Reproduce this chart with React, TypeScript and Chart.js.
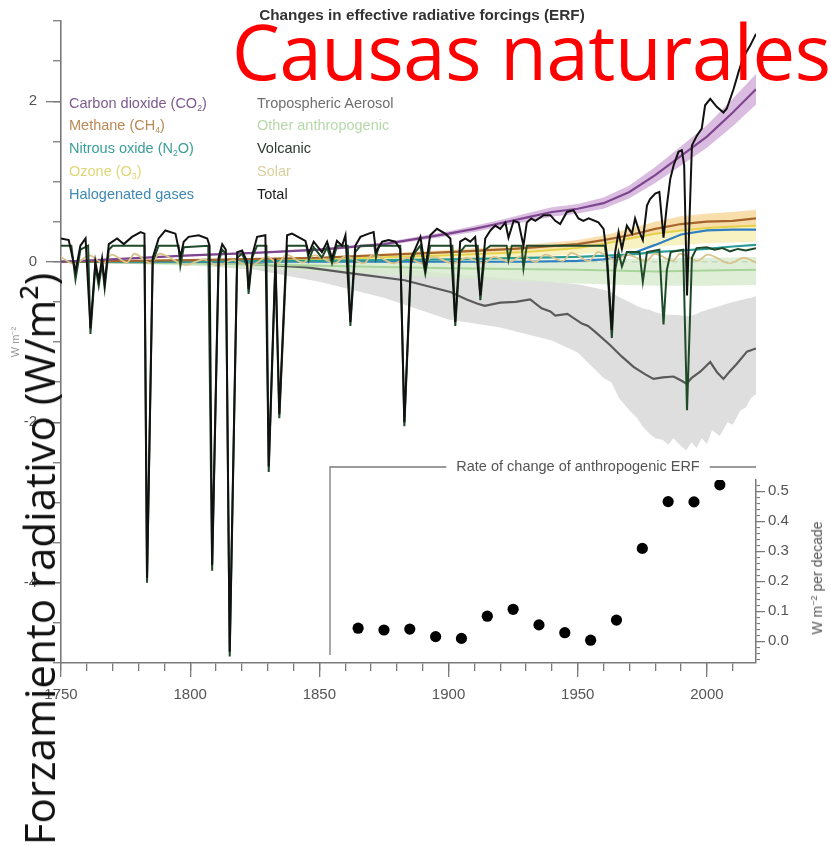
import React, { useEffect, useRef } from 'react';
import { Chart, registerables } from 'chart.js';

Chart.register(...registerables);

const W = 831;
const H = 846;
const FONT = "'Liberation Sans', Arial, Helvetica, sans-serif";
const AXIS = '#7a7a7a';
const TICK_TEXT = '#555555';
Chart.defaults.font.family = FONT;

// ---- axes -------------------------------------------------------------
const YEAR_MIN = 1750;
const YEAR_MAX = 2019;
const ERF_MIN = -5;
const ERF_MAX = 3;
const ERF_LABEL_TICKS = [-4, -2, 0, 2];
const RATE_MIN = -0.073;
const RATE_MAX = 0.537;

// ---- effective radiative forcing series (W m-2) ------------------------
const co2Years = [1750, 1775, 1800, 1825, 1850, 1875, 1900, 1910, 1920, 1930, 1940, 1950, 1960, 1970, 1980, 1990, 2000, 2010, 2019];
const co2Values = [0, 0.04, 0.08, 0.11, 0.15, 0.22, 0.35, 0.41, 0.48, 0.55, 0.62, 0.66, 0.73, 0.87, 1.08, 1.32, 1.56, 1.86, 2.15];
const co2Low = [0, 0.035, 0.07, 0.1, 0.135, 0.2, 0.32, 0.37, 0.44, 0.5, 0.56, 0.6, 0.66, 0.79, 0.98, 1.2, 1.42, 1.69, 1.96];
const co2High = [0, 0.045, 0.09, 0.12, 0.165, 0.24, 0.38, 0.45, 0.52, 0.6, 0.68, 0.72, 0.8, 0.95, 1.18, 1.44, 1.7, 2.03, 2.34];

const ch4Years = [1750, 1800, 1850, 1900, 1925, 1950, 1960, 1970, 1980, 1990, 2000, 2010, 2019];
const ch4Values = [0, 0.02, 0.05, 0.12, 0.16, 0.22, 0.27, 0.33, 0.41, 0.47, 0.5, 0.51, 0.54];
const ch4Low = [0, 0.015, 0.04, 0.1, 0.13, 0.18, 0.22, 0.27, 0.34, 0.39, 0.41, 0.42, 0.45];
const ch4High = [0, 0.025, 0.06, 0.15, 0.2, 0.27, 0.33, 0.4, 0.5, 0.57, 0.6, 0.62, 0.65];

const n2oYears = [1750, 1850, 1900, 1950, 1970, 1980, 1990, 2000, 2010, 2019];
const n2oValues = [0, 0.01, 0.03, 0.06, 0.09, 0.12, 0.14, 0.16, 0.19, 0.21];

const ozoneYears = [1750, 1850, 1900, 1930, 1950, 1960, 1970, 1980, 1990, 2000, 2010, 2019];
const ozoneValues = [0, 0.03, 0.08, 0.12, 0.17, 0.22, 0.29, 0.35, 0.39, 0.42, 0.44, 0.45];
const ozoneLow = [0, 0.01, 0.04, 0.06, 0.09, 0.12, 0.16, 0.19, 0.21, 0.23, 0.24, 0.25];
const ozoneHigh = [0, 0.05, 0.12, 0.18, 0.25, 0.32, 0.42, 0.5, 0.55, 0.59, 0.62, 0.63];

const halogenYears = [1750, 1930, 1950, 1960, 1970, 1980, 1990, 2000, 2010, 2019];
const halogenValues = [0, 0, 0.01, 0.03, 0.09, 0.21, 0.34, 0.39, 0.4, 0.4];

const otherYears = [1750, 1800, 1850, 1900, 1950, 1980, 2000, 2019];
const otherValues = [0, -0.02, -0.05, -0.08, -0.1, -0.12, -0.11, -0.1];
const otherLow = [0, -0.05, -0.12, -0.2, -0.27, -0.3, -0.3, -0.29];
const otherHigh = [0, 0.01, 0.01, 0.02, 0.03, 0.04, 0.05, 0.06];

const aerosolYears = [1750, 1800, 1825, 1845, 1864, 1883, 1901, 1907, 1911, 1914, 1920, 1926, 1931.6, 1936, 1939.4, 1941.3, 1946, 1951.6, 1954, 1957, 1962.6, 1967, 1971.6, 1976, 1979.3, 1983, 1987.1, 1990, 1992.2, 1994, 1997.4, 2001.3, 2004, 2006.4, 2009, 2011.6, 2015.5, 2019];
const aerosolValues = [0, -0.01, -0.03, -0.07, -0.15, -0.23, -0.38, -0.47, -0.52, -0.55, -0.51, -0.5, -0.47, -0.58, -0.62, -0.67, -0.65, -0.77, -0.8, -0.88, -1.04, -1.18, -1.31, -1.4, -1.46, -1.44, -1.43, -1.48, -1.52, -1.45, -1.37, -1.25, -1.38, -1.46, -1.36, -1.27, -1.12, -1.08];
const aerosolBandYears = [1750, 1800, 1825, 1850, 1875, 1900, 1920, 1940, 1950, 1960, 1963, 1966, 1970, 1973, 1975, 1978, 1980, 1983, 1985, 1987, 1990, 1992, 1994, 1996, 1998, 2000, 2002, 2005, 2008, 2010, 2013, 2015, 2017, 2019];
const aerosolHigh = [0, 0, -0.01, -0.03, -0.06, -0.15, -0.2, -0.25, -0.28, -0.35, -0.38, -0.44, -0.5, -0.55, -0.58, -0.6, -0.63, -0.65, -0.66, -0.66, -0.67, -0.68, -0.67, -0.65, -0.62, -0.6, -0.58, -0.55, -0.52, -0.5, -0.48, -0.46, -0.45, -0.43];
const aerosolLow = [0, -0.04, -0.1, -0.25, -0.45, -0.72, -0.82, -0.98, -1.13, -1.45, -1.5, -1.7, -1.85, -1.95, -2.05, -2.15, -2.2, -2.22, -2.28, -2.2, -2.3, -2.35, -2.25, -2.32, -2.2, -2.27, -2.1, -2.17, -2.0, -2.03, -1.85, -1.82, -1.7, -1.65];

const volcanicYears = [1750, 1754, 1755.6, 1757.5, 1760.5, 1761.4, 1763.3, 1764.6, 1765.9, 1766.9, 1768.5, 1770, 1782.3, 1783.3, 1785.5, 1787.8, 1795.5, 1796.2, 1797.5, 1807, 1808.5, 1811, 1812.4, 1813.8, 1815.3, 1818.2, 1820.1, 1822, 1822.6, 1824, 1825.9, 1829.5, 1830.4, 1833, 1834.5, 1837.5, 1845, 1845.9, 1847.8, 1851, 1853, 1854.9, 1856.8, 1861, 1862, 1863.9, 1865.9, 1871.3, 1871.9, 1873, 1881.3, 1882.9, 1885.5, 1887.1, 1889.1, 1891, 1892.9, 1901.5, 1902.6, 1904.5, 1906.5, 1911.3, 1912.3, 1914.2, 1916.2, 1922.5, 1923.2, 1924.5, 1928.3, 1929, 1930.3, 1960.5, 1961.3, 1963.2, 1964.5, 1965.8, 1967.1, 1969, 1973.9, 1975.2, 1976.8, 1981.6, 1983.2, 1984.5, 1986, 1990.8, 1992.3, 1994.2, 1996, 2000, 2003, 2006, 2009, 2012, 2015, 2019];
const volcanicValues = [0.2, 0.2, -0.22, 0.15, 0.2, -0.9, -0.05, -0.3, -0.02, -0.33, 0.15, 0.2, 0.2, -4.0, 0.0, 0.2, 0.2, -0.05, 0.18, 0.2, -3.85, 0.0, 0.15, 0.1, -4.92, 0.05, 0.1, -0.05, -0.4, 0.05, 0.2, 0.2, -2.62, -0.02, -1.95, 0.2, 0.2, 0.02, 0.18, 0.05, 0.18, -0.02, 0.2, 0.2, -0.8, 0.12, 0.2, 0.2, 0.05, 0.2, 0.2, -2.05, -0.02, 0.12, 0.2, -0.15, 0.2, 0.2, -0.8, 0.12, 0.2, 0.2, -0.48, 0.15, 0.2, 0.2, 0.02, 0.2, 0.2, -0.08, 0.2, 0.2, 0.0, -0.95, -0.1, 0.12, -0.06, 0.12, 0.12, -0.25, 0.12, 0.15, -0.78, -0.1, 0.12, 0.15, -1.85, 0.05, 0.17, 0.18, 0.15, 0.17, 0.13, 0.16, 0.14, 0.17];

const solarYears = [1750, 1755.2, 1761, 1766.5, 1769.7, 1775.5, 1778.4, 1784.7, 1788.1, 1798.3, 1805.2, 1810.6, 1816.4, 1823.3, 1829.9, 1833.9, 1837.2, 1843.5, 1848.1, 1856, 1860.1, 1867.2, 1870.6, 1878.9, 1883.9, 1889.6, 1894.1, 1901.7, 1907, 1913.6, 1917.6, 1923.6, 1928.4, 1933.8, 1937.4, 1944.2, 1947.5, 1954.3, 1957.9, 1964.9, 1968.9, 1976.5, 1979.9, 1986.8, 1989.6, 1996.4, 2000.3, 2008.9, 2014.3, 2019];
const solarValues = [0.06, -0.03, 0.08, -0.02, 0.09, -0.01, 0.1, -0.02, 0.1, -0.04, 0.03, -0.05, 0.02, -0.05, 0.06, -0.02, 0.09, -0.01, 0.08, -0.02, 0.07, -0.02, 0.09, -0.02, 0.05, -0.02, 0.06, -0.02, 0.05, -0.02, 0.06, 0.0, 0.07, 0.0, 0.09, 0.01, 0.11, 0.01, 0.12, 0.02, 0.09, 0.01, 0.1, 0.01, 0.1, 0.01, 0.09, -0.02, 0.05, -0.01];

const totalYears = [1750, 1753, 1755.6, 1757.5, 1759.5, 1761.4, 1763.3, 1764.6, 1765.9, 1766.9, 1768.5, 1771.7, 1774.3, 1777.5, 1780.8, 1782.3, 1783.3, 1785.5, 1787.8, 1790.4, 1794.3, 1796.2, 1797.5, 1799.4, 1803.3, 1806.6, 1807.5, 1808.5, 1811, 1812.4, 1813.8, 1815.3, 1818.2, 1820.1, 1822, 1822.6, 1824, 1825.9, 1829.1, 1830.4, 1833, 1834.5, 1837.5, 1839.4, 1844.6, 1845.9, 1847.8, 1851, 1853, 1854.9, 1856.8, 1858.8, 1860.1, 1862, 1863.9, 1865.9, 1869.1, 1871, 1871.9, 1874.3, 1876.8, 1879.4, 1881.3, 1882.9, 1885.5, 1887.1, 1889.1, 1891, 1892.9, 1895.5, 1898.7, 1900.7, 1902.6, 1904.5, 1906.5, 1908.4, 1910.3, 1912.3, 1914.2, 1916.2, 1918.1, 1920, 1922, 1923.2, 1925.2, 1927.1, 1929, 1930.3, 1932, 1933.6, 1936.8, 1939.4, 1941.3, 1943.2, 1945.8, 1948.4, 1950.3, 1952.2, 1954.2, 1958, 1960, 1961.3, 1963.2, 1964.5, 1965.8, 1967.1, 1969, 1971, 1972.2, 1973.9, 1975.2, 1976.8, 1978, 1980, 1981.6, 1983.2, 1984.5, 1985.8, 1987.1, 1989, 1990.3, 1991.2, 1992.3, 1994.2, 1996.1, 1998, 1999.3, 2001.3, 2003.8, 2006.4, 2007.7, 2010.3, 2012.2, 2014.1, 2016.7, 2019];
const totalValues = [0.29, 0.27, -0.12, 0.2, 0.29, -0.83, 0.0, -0.23, 0.04, -0.27, 0.22, 0.29, 0.22, 0.31, 0.37, 0.35, -3.94, 0.05, 0.29, 0.39, 0.35, 0.06, 0.25, 0.31, 0.33, 0.29, 0.2, -3.78, 0.05, 0.22, 0.15, -4.86, 0.12, 0.14, 0.0, -0.34, 0.08, 0.31, 0.33, -2.55, 0.04, -1.9, 0.33, 0.35, 0.26, 0.1, 0.25, 0.12, 0.25, 0.04, 0.26, 0.2, 0.33, -0.75, 0.2, 0.31, 0.35, 0.37, 0.12, 0.25, 0.27, 0.25, 0.16, -2.0, 0.05, 0.16, 0.31, -0.09, 0.33, 0.41, 0.35, 0.29, -0.75, 0.25, 0.29, 0.25, 0.31, -0.42, 0.29, 0.39, 0.45, 0.41, 0.49, 0.3, 0.51, 0.49, 0.2, 0.49, 0.54, 0.51, 0.58, 0.58, 0.51, 0.47, 0.62, 0.64, 0.54, 0.51, 0.54, 0.49, 0.41, 0.08, -0.85, 0.12, 0.37, 0.16, 0.45, 0.35, 0.54, 0.37, 0.27, 0.7, 0.78, 0.85, 0.87, 0.3, 0.7, 1.03, 1.2, 1.37, 1.39, 1.2, -0.42, 1.45, 1.57, 1.66, 1.95, 2.03, 1.93, 1.86, 1.91, 2.15, 2.36, 2.55, 2.69, 2.84];

// ---- rate of change of anthropogenic ERF (W m-2 per decade) ------------
const rateYears = [1865, 1875, 1885, 1895, 1905, 1915, 1925, 1935, 1945, 1955, 1965, 1975, 1985, 1995, 2005];
const rateValues = [0.043, 0.037, 0.04, 0.015, 0.009, 0.083, 0.106, 0.054, 0.028, 0.003, 0.07, 0.309, 0.465, 0.464, 0.521];

const INSET_TITLE = 'Rate of change of anthropogenic ERF';

const pts = (xs: number[], ys: number[]) => xs.map((x, i) => ({ x, y: ys[i] }));

const line = (label: string, xs: number[], ys: number[], color: string, width = 2, extra: any = {}) => ({
  label,
  data: pts(xs, ys),
  borderColor: color,
  backgroundColor: color,
  borderWidth: width,
  pointRadius: 0,
  fill: false,
  tension: 0,
  ...extra,
});

const bandEdge = (label: string, xs: number[], ys: number[], color: string, fillToNext: boolean) => ({
  label,
  data: pts(xs, ys),
  borderWidth: 0,
  borderColor: 'rgba(0,0,0,0)',
  backgroundColor: color,
  pointRadius: 0,
  fill: fillToNext ? '+1' : false,
});

const isZero = (v: number) => Math.abs(v) < 1e-9;

function mainConfig(): any {
  return {
    type: 'line',
    data: {
      datasets: [
        line('Total', totalYears, totalValues, '#111111', 2),
        line('Volcanic', volcanicYears, volcanicValues, '#1f4a2a', 2),
        line('Solar', solarYears, solarValues, '#d9c48e', 1.8, { cubicInterpolationMode: 'monotone' }),
        line('Carbon dioxide', co2Years, co2Values, '#7f4690', 2.2),
        line('Methane', ch4Years, ch4Values, '#a8652b', 2.2),
        line('Nitrous oxide', n2oYears, n2oValues, '#2a9c94', 2.2),
        line('Ozone', ozoneYears, ozoneValues, '#e6d14a', 2),
        line('Halogenated gases', halogenYears, halogenValues, '#2f7fc1', 2.2),
        line('Other anthropogenic', otherYears, otherValues, '#a9d49b', 2),
        line('Tropospheric Aerosol', aerosolYears, aerosolValues, '#5a5a5a', 2.2),
        bandEdge('co2 high', co2Years, co2High, 'rgba(205,165,215,0.75)', true),
        bandEdge('co2 low', co2Years, co2Low, 'rgba(0,0,0,0)', false),
        bandEdge('ch4 high', ch4Years, ch4High, 'rgba(246,214,160,0.7)', true),
        bandEdge('ch4 low', ch4Years, ch4Low, 'rgba(0,0,0,0)', false),
        bandEdge('ozone high', ozoneYears, ozoneHigh, 'rgba(245,236,170,0.7)', true),
        bandEdge('ozone low', ozoneYears, ozoneLow, 'rgba(0,0,0,0)', false),
        bandEdge('other high', otherYears, otherHigh, 'rgba(215,235,205,0.8)', true),
        bandEdge('other low', otherYears, otherLow, 'rgba(0,0,0,0)', false),
        bandEdge('aerosol high', aerosolBandYears, aerosolHigh, '#dedede', true),
        bandEdge('aerosol low', aerosolBandYears, aerosolLow, 'rgba(0,0,0,0)', false),
      ],
    },
    options: {
      responsive: false,
      animation: false,
      events: [],
      layout: { padding: { top: 21, right: W - 756, bottom: 0, left: 0 } },
      plugins: { legend: { display: false }, tooltip: { enabled: false }, title: { display: false } },
      scales: {
        x: {
          type: 'linear', position: 'bottom', min: YEAR_MIN, max: YEAR_MAX, weight: 0,
          ticks: { stepSize: 10, includeBounds: false, display: false, autoSkip: false },
          grid: { drawOnChartArea: false, tickLength: 8, color: AXIS, tickColor: AXIS, lineWidth: 1.3 },
          border: { color: AXIS, width: 1.6 },
          afterFit: (s: any) => { s.height = 0; },
        },
        xMajor: {
          type: 'linear', position: 'bottom', min: YEAR_MIN, max: YEAR_MAX, weight: 1,
          ticks: {
            stepSize: 50, includeBounds: false, autoSkip: false, maxRotation: 0,
            color: TICK_TEXT, font: { size: 15 }, padding: 9,
            callback: (v: number) => String(v),
          },
          grid: { drawOnChartArea: false, tickLength: 14, color: AXIS, tickColor: AXIS, lineWidth: 1.3 },
          border: { display: false },
          afterFit: (s: any) => { s.height = H - 663; },
        },
        y: {
          type: 'linear', position: 'left', min: ERF_MIN, max: ERF_MAX, weight: 0,
          ticks: { stepSize: 0.5, display: false, autoSkip: false },
          grid: {
            drawOnChartArea: true,
            tickLength: 8,
            color: (c: any) => (c.tick && isZero(c.tick.value) ? '#7f8a86' : 'rgba(0,0,0,0)'),
            lineWidth: 1.5,
            tickColor: AXIS,
            tickWidth: 1.3,
          },
          border: { color: AXIS, width: 1.6, dash: [6, 4] },
          afterFit: (s: any) => { s.width = 0; },
        },
        yMajor: {
          type: 'linear', position: 'left', min: ERF_MIN, max: ERF_MAX, weight: 1,
          afterBuildTicks: (s: any) => { s.ticks = ERF_LABEL_TICKS.map((value) => ({ value })); },
          ticks: { color: TICK_TEXT, font: { size: 15 }, padding: 9, autoSkip: false, callback: (v: number) => String(v) },
          grid: { drawOnChartArea: false, tickLength: 15, color: AXIS, tickColor: AXIS, lineWidth: 1.3 },
          border: { display: false },
          title: { display: true, text: 'W m⁻²', color: '#9a9a9a', font: { size: 11 }, padding: { top: 9, bottom: 0 } },
          afterFit: (s: any) => { s.width = 61; },
        },
      },
    },
  };
}

// frame and heading of the inset panel
const insetFrame = {
  id: 'insetFrame',
  afterDraw(chart: any) {
    const { ctx, chartArea } = chart;
    const cx = 578;
    const ty = 467;
    ctx.save();
    ctx.font = `14.5px ${FONT}`;
    const tw = ctx.measureText(INSET_TITLE).width;
    ctx.fillStyle = '#555555';
    ctx.textAlign = 'center';
    ctx.textBaseline = 'middle';
    ctx.fillText(INSET_TITLE, cx, ty);
    ctx.strokeStyle = AXIS;
    ctx.lineWidth = 1.3;
    ctx.beginPath();
    ctx.moveTo(330, 655);
    ctx.lineTo(330, ty);
    ctx.lineTo(cx - tw / 2 - 10, ty);
    ctx.moveTo(cx + tw / 2 + 10, ty);
    ctx.lineTo(chartArea.right, ty);
    ctx.stroke();
    ctx.restore();
  },
};

function insetConfig(): any {
  return {
    type: 'scatter',
    data: {
      datasets: [
        {
          label: 'Rate of change',
          data: pts(rateYears, rateValues),
          pointRadius: 5.6,
          pointBackgroundColor: '#000000',
          pointBorderWidth: 0,
          showLine: false,
        },
      ],
    },
    plugins: [insetFrame],
    options: {
      responsive: false,
      animation: false,
      events: [],
      layout: { padding: { top: 480, left: 61, right: 0, bottom: H - 663 } },
      plugins: { legend: { display: false }, tooltip: { enabled: false } },
      scales: {
        x: { type: 'linear', min: YEAR_MIN, max: YEAR_MAX, display: false },
        y: {
          type: 'linear', position: 'right', min: RATE_MIN, max: RATE_MAX, weight: 0,
          ticks: { stepSize: 0.02, includeBounds: false, display: false, autoSkip: false },
          grid: { drawOnChartArea: false, tickLength: 4, color: AXIS, tickColor: AXIS, lineWidth: 1.1 },
          border: { color: AXIS, width: 1.5 },
          afterFit: (s: any) => { s.width = 0; },
        },
        yMajor: {
          type: 'linear', position: 'right', min: RATE_MIN, max: RATE_MAX, weight: 1,
          ticks: {
            stepSize: 0.1, includeBounds: false, autoSkip: false,
            color: TICK_TEXT, font: { size: 15 }, padding: 3,
            callback: (v: number) => (isZero(v) ? '0.0' : v.toFixed(1)),
          },
          grid: { drawOnChartArea: false, tickLength: 9, color: AXIS, tickColor: AXIS, lineWidth: 1.2 },
          border: { display: false },
          afterFit: (s: any) => { s.width = W - 756; },
        },
      },
    },
  };
}

function subStyle(): React.CSSProperties {
  return { fontSize: '0.6em', verticalAlign: '-0.3em', lineHeight: 0 };
}

const legendLeft = [
  { color: '#7d5a8e', body: <>Carbon dioxide (CO<sub style={subStyle()}>2</sub>)</> },
  { color: '#b98a55', body: <>Methane (CH<sub style={subStyle()}>4</sub>)</> },
  { color: '#3a9e98', body: <>Nitrous oxide (N<sub style={subStyle()}>2</sub>O)</> },
  { color: '#e0d876', body: <>Ozone (O<sub style={subStyle()}>3</sub>)</> },
  { color: '#3f87b5', body: <>Halogenated gases</> },
];
const legendRight = [
  { color: '#6f6f6f', body: <>Tropospheric Aerosol</> },
  { color: '#b8d8ac', body: <>Other anthropogenic</> },
  { color: '#2b3a2e', body: <>Volcanic</> },
  { color: '#d8cf9e', body: <>Solar</> },
  { color: '#1a1a1a', body: <>Total</> },
];

function LegendColumn({ left, items }: { left: number; items: { color: string; body: React.ReactNode }[] }) {
  return (
    <div style={{ position: 'absolute', left, top: 91.6, fontFamily: FONT, fontSize: 14.5 }}>
      {items.map((it, i) => (
        <div key={i} style={{ color: it.color, height: 22.75, lineHeight: '22.75px', whiteSpace: 'nowrap' }}>
          {it.body}
        </div>
      ))}
    </div>
  );
}

export default function App() {
  const mainRef = useRef<HTMLCanvasElement>(null);
  const insetRef = useRef<HTMLCanvasElement>(null);

  useEffect(() => {
    const main = new Chart(mainRef.current as HTMLCanvasElement, mainConfig());
    const inset = new Chart(insetRef.current as HTMLCanvasElement, insetConfig());
    return () => {
      main.destroy();
      inset.destroy();
    };
  }, []);

  return (
    <div style={{ position: 'absolute', left: 0, top: 0, width: W, height: H, background: '#ffffff', overflow: 'hidden' }}>
      <canvas ref={mainRef} width={W} height={H} style={{ position: 'absolute', left: 0, top: 0 }} />
      <canvas ref={insetRef} width={W} height={H} style={{ position: 'absolute', left: 0, top: 0 }} />

      <div style={{ position: 'absolute', left: 422, top: 6, transform: 'translateX(-50%)', fontFamily: FONT, fontWeight: 'bold', fontSize: 15.3, lineHeight: '18px', color: '#333', whiteSpace: 'nowrap' }}>
        Changes in effective radiative forcings (ERF)
      </div>

      <LegendColumn left={69} items={legendLeft} />
      <LegendColumn left={257} items={legendRight} />

      <div style={{ position: 'absolute', left: 817, top: 578, transform: 'translate(-50%, -50%) rotate(-90deg)', fontFamily: FONT, fontSize: 14, color: '#555', whiteSpace: 'nowrap', lineHeight: '16px' }}>
        W m<sup style={{ fontSize: '0.65em', verticalAlign: '0.5em', lineHeight: 0 }}>−2</sup> per decade
      </div>

      <div style={{ position: 'absolute', left: 232, top: 13, fontFamily: "'Open Sans', 'Noto Sans', sans-serif", fontSize: 76, lineHeight: '76px', letterSpacing: -0.4, color: '#ff0000', whiteSpace: 'nowrap' }}>
        Causas naturales
      </div>

      <div style={{ position: 'absolute', left: 39, top: 559, transform: 'translate(-50%, -50%) rotate(-90deg)', fontFamily: "'Open Sans', 'Noto Sans', sans-serif", fontSize: 42, lineHeight: '42px', color: '#111', whiteSpace: 'nowrap' }}>
        Forzamiento radiativo (W/m²)
      </div>
    </div>
  );
}
